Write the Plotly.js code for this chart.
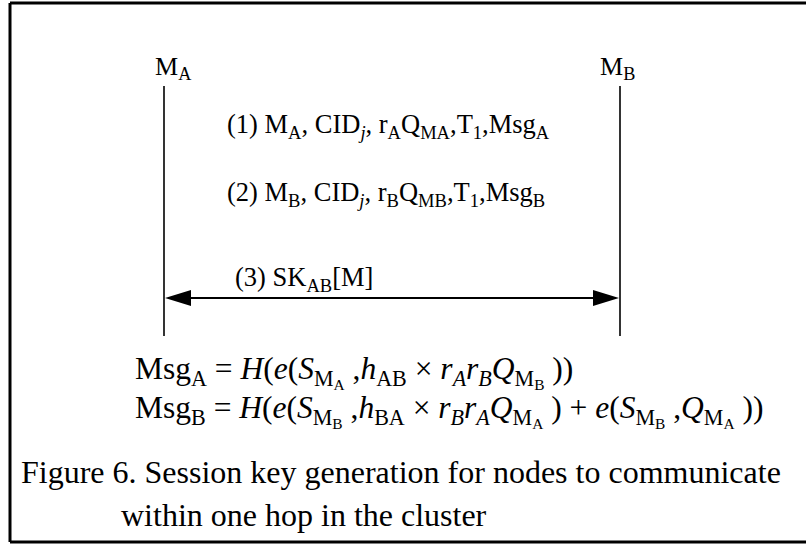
<!DOCTYPE html>
<html>
<head>
<meta charset="utf-8">
<script src="https://cdn.plot.ly/plotly-3.0.1.min.js"></script>
<style>html,body{margin:0;padding:0;background:#fff;}#chart{width:806px;height:544px;}</style>
</head>
<body>
<div id="chart"></div>
<script>
// ---- diagram content ----
const participants = ['M<sub>A</sub>', 'M<sub>B</sub>'];
const messages = [
  '(1) M<sub>A</sub>, CID<sub><i>j</i></sub>, r<sub>A</sub>Q<sub>MA</sub>,T<sub>1</sub>,Msg<sub>A</sub>',
  '(2) M<sub>B</sub>, CID<sub><i>j</i></sub>, r<sub>B</sub>Q<sub>MB</sub>,T<sub>1</sub>,Msg<sub>B</sub>',
  '(3) SK<sub>AB</sub>[M]'
];
const equations = [
  'Msg<sub>A</sub> = <i>H</i>(<i>e</i>(<i>S</i><sub>M<sub>A</sub></sub> ,<i>h</i><sub>AB</sub> × <i>r<sub>A</sub>r<sub>B</sub>Q</i><sub>M<sub>B</sub></sub> ))',
  'Msg<sub>B</sub> = <i>H</i>(<i>e</i>(<i>S</i><sub>M<sub>B</sub></sub> ,<i>h</i><sub>BA</sub> × <i>r<sub>B</sub>r<sub>A</sub>Q</i><sub>M<sub>A</sub></sub> ) + <i>e</i>(<i>S</i><sub>M<sub>B</sub></sub> ,<i>Q</i><sub>M<sub>A</sub></sub> ))'
];
const caption = [
  'Figure 6. Session key generation for nodes to communicate',
  'within one hop in the cluster'
];

// ---- layout (pixel coordinate space) ----
const W = 806, H = 544;
const serif = 'Liberation Serif, Times New Roman, serif';
const lifeX = [164, 620];
const lifeTop = 86, lifeBottom = 336;
const arrowY = 298, headL = 26, headH = 8;

const shapes = [];
// frame
shapes.push({type:'line', xref:'x', yref:'y', x0:10, y0:3, x1:806, y1:3, line:{color:'#000', width:3}});
shapes.push({type:'line', xref:'x', yref:'y', x0:10, y0:3, x1:10, y1:542, line:{color:'#000', width:3}});
shapes.push({type:'line', xref:'x', yref:'y', x0:10, y0:542, x1:806, y1:542, line:{color:'#000', width:3}});
// lifelines
lifeX.forEach(x => shapes.push({type:'line', xref:'x', yref:'y', x0:x, y0:lifeTop, x1:x, y1:lifeBottom, line:{color:'#000', width:1.6}}));
// bidirectional arrow
shapes.push({type:'line', xref:'x', yref:'y', x0:lifeX[0]+4, y0:arrowY, x1:lifeX[1]-4, y1:arrowY, line:{color:'#000', width:2}});
shapes.push({type:'path', xref:'x', yref:'y', path:`M ${lifeX[0]+1} ${arrowY} L ${lifeX[0]+1+headL} ${arrowY-headH} L ${lifeX[0]+1+headL} ${arrowY+headH} Z`, fillcolor:'#000', line:{color:'#000', width:0}});
shapes.push({type:'path', xref:'x', yref:'y', path:`M ${lifeX[1]-1} ${arrowY} L ${lifeX[1]-1-headL} ${arrowY-headH} L ${lifeX[1]-1-headL} ${arrowY+headH} Z`, fillcolor:'#000', line:{color:'#000', width:0}});

const annotations = [];
const partPos = [[153, 68], [598, 68]];
participants.forEach((t, i) => annotations.push({text:t, x:partPos[i][0], y:partPos[i][1], xref:'x', yref:'y', xanchor:'left', yanchor:'middle', showarrow:false, font:{family:serif, size:26, color:'#000'}}));
const msgPos = [[225, 126], [225, 194], [233, 279]];
messages.forEach((t, i) => annotations.push({text:t, x:msgPos[i][0], y:msgPos[i][1], xref:'x', yref:'y', xanchor:'left', yanchor:'middle', showarrow:false, font:{family:serif, size:26.5, color:'#000'}}));
const eqPos = [[133, 372], [133, 411]];
equations.forEach((t, i) => annotations.push({text:t, x:eqPos[i][0], y:eqPos[i][1], xref:'x', yref:'y', xanchor:'left', yanchor:'middle', showarrow:false, font:{family:serif, size:31.5, color:'#000'}}));
const capPos = [[19, 472], [119, 515]];
caption.forEach((t, i) => annotations.push({text:t, x:capPos[i][0], y:capPos[i][1], xref:'x', yref:'y', xanchor:'left', yanchor:'middle', showarrow:false, font:{family:serif, size:32, color:'#000'}}));

const layout = {
  width: W, height: H,
  margin: {l:0, r:0, t:0, b:0},
  paper_bgcolor: '#fff', plot_bgcolor: '#fff',
  xaxis: {range:[0, W], visible:false, fixedrange:true},
  yaxis: {range:[H, 0], visible:false, fixedrange:true},
  showlegend: false,
  shapes: shapes,
  annotations: annotations
};
Plotly.newPlot('chart', [{x:[], y:[], type:'scatter', hoverinfo:'skip'}], layout, {staticPlot:true, displayModeBar:false});
</script>
</body>
</html>
